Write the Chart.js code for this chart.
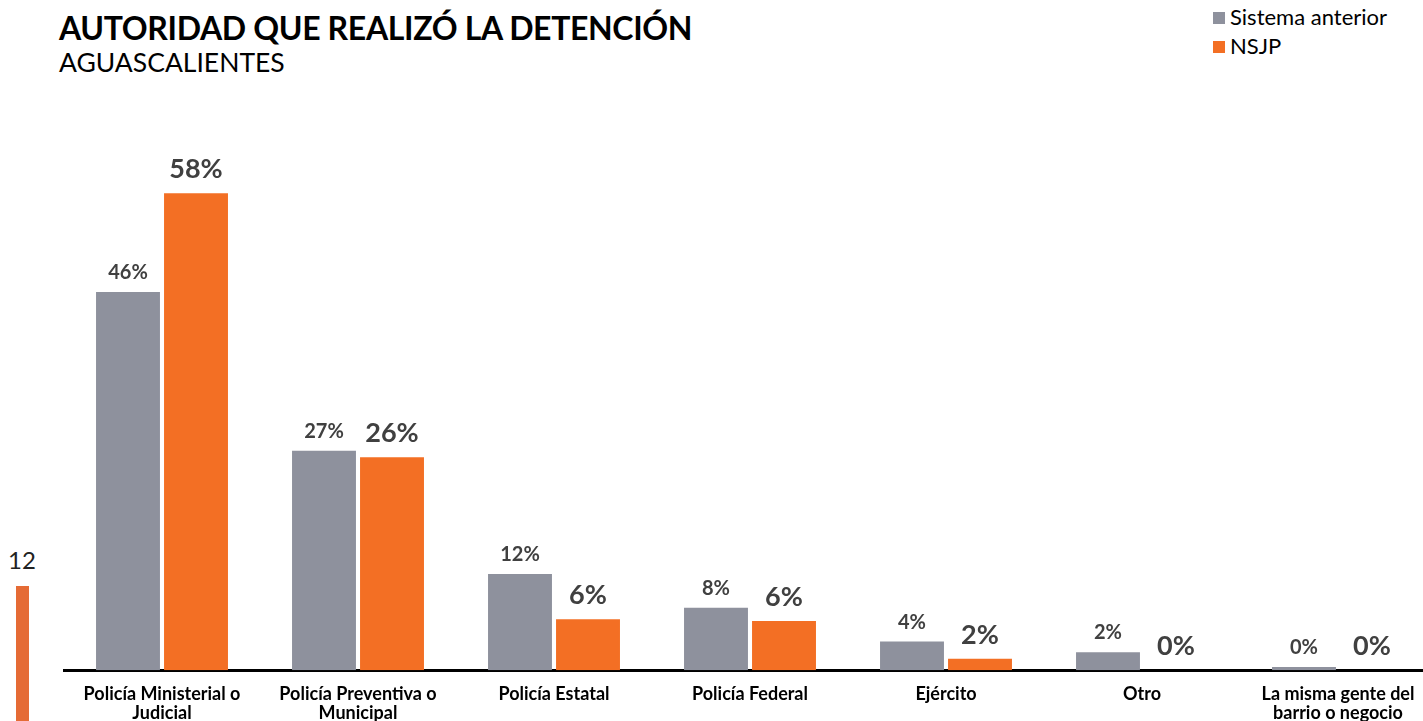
<!DOCTYPE html>
<html>
<head>
<meta charset="utf-8">
<script src="https://cdn.jsdelivr.net/npm/chart.js@4"></script>
<style>
  html, body { margin: 0; padding: 0; background: #fff; overflow: hidden; width: 1423px; height: 721px; }
  body { position: relative; font-family: Lato, sans-serif; }
  #title { position: absolute; left: 59px; top: 8px; font-size: 32px; font-weight: 700; color: #000; letter-spacing: -0.35px; }
  #subtitle { position: absolute; left: 59px; top: 46px; font-size: 26.5px; color: #000; }
  .legend { position: absolute; left: 1213px; font-size: 22px; color: #000; }
  .legend span { display: inline-block; width: 12px; height: 12px; margin-right: 5px; vertical-align: 1px; }
  #page { position: absolute; left: 8px; top: 545px; font-size: 24px; color: #222; }
  #pagebar { position: absolute; left: 16px; top: 586px; width: 13px; height: 140px; background: #e56b35; }
  #wrap { position: absolute; left: 0; top: 0; width: 1440px; height: 765px; }
</style>
</head>
<body>
<div id="title">AUTORIDAD QUE REALIZÓ LA DETENCIÓN</div>
<div id="subtitle">AGUASCALIENTES</div>
<div class="legend" style="top:3px"><span style="background:#8e919d"></span>Sistema anterior</div>
<div class="legend" style="top:32px"><span style="background:#f36f24"></span>NSJP</div>
<div id="page">12</div>
<div id="pagebar"></div>
<div id="wrap"><canvas id="chart"></canvas></div>
<script>
const categories = [
  ["Policía Ministerial o", "Judicial"],
  ["Policía Preventiva o", "Municipal"],
  "Policía Estatal",
  "Policía Federal",
  "Ejército",
  "Otro",
  ["La misma gente del", "barrio o negocio"]
];
const sistemaAnterior = [46, 26.7, 11.7, 7.6, 3.5, 2.2, 0.4];
const nsjp = [58, 25.9, 6.2, 6, 1.4, 0, 0];
const sistemaLabels = ["46%", "27%", "12%", "8%", "4%", "2%", "0%"];
const nsjpLabels = ["58%", "26%", "6%", "6%", "2%", "0%", "0%"];

const valueLabels = {
  id: 'valueLabels',
  afterDatasetsDraw(chart) {
    const ctx = chart.ctx;
    chart.data.datasets.forEach((ds, i) => {
      const meta = chart.getDatasetMeta(i);
      meta.data.forEach((bar, j) => {
        ctx.save();
        ctx.fillStyle = '#404040';
        ctx.textAlign = 'center';
        ctx.textBaseline = 'alphabetic';
        ctx.font = i === 0 ? 'bold 20px Lato' : 'bold 27px Lato';
        ctx.fillText(ds.texts[j], bar.x, bar.y - (i === 0 ? 13 : 15));
        ctx.restore();
      });
    });
  }
};

new Chart(document.getElementById('chart'), {
  type: 'bar',
  data: {
    labels: categories,
    datasets: [{
      label: 'Sistema anterior',
      data: sistemaAnterior,
      texts: sistemaLabels,
      backgroundColor: '#8e919d',
      barPercentage: 0.94,
      categoryPercentage: 0.694
    }, {
      label: 'NSJP',
      data: nsjp,
      texts: nsjpLabels,
      backgroundColor: '#f36f24',
      barPercentage: 0.94,
      categoryPercentage: 0.694
    }]
  },
  options: {
    responsive: true,
    maintainAspectRatio: false,
    animation: false,
    layout: { padding: { top: 94.5, left: 64, right: 4, bottom: 36.5 } },
    plugins: { legend: { display: false }, title: { display: false }, tooltip: { enabled: false } },
    scales: {
      x: {
        grid: { display: false },
        border: { display: true, color: '#000', width: 3 },
        ticks: {
          color: '#000',
          padding: 6,
          maxRotation: 0,
          autoSkip: false,
          font: { family: 'Lato', weight: 'bold', size: 18, lineHeight: 1.06 }
        }
      },
      y: { display: false, min: 0, max: 70 }
    }
  },
  plugins: [valueLabels]
});
</script>
</body>
</html>
